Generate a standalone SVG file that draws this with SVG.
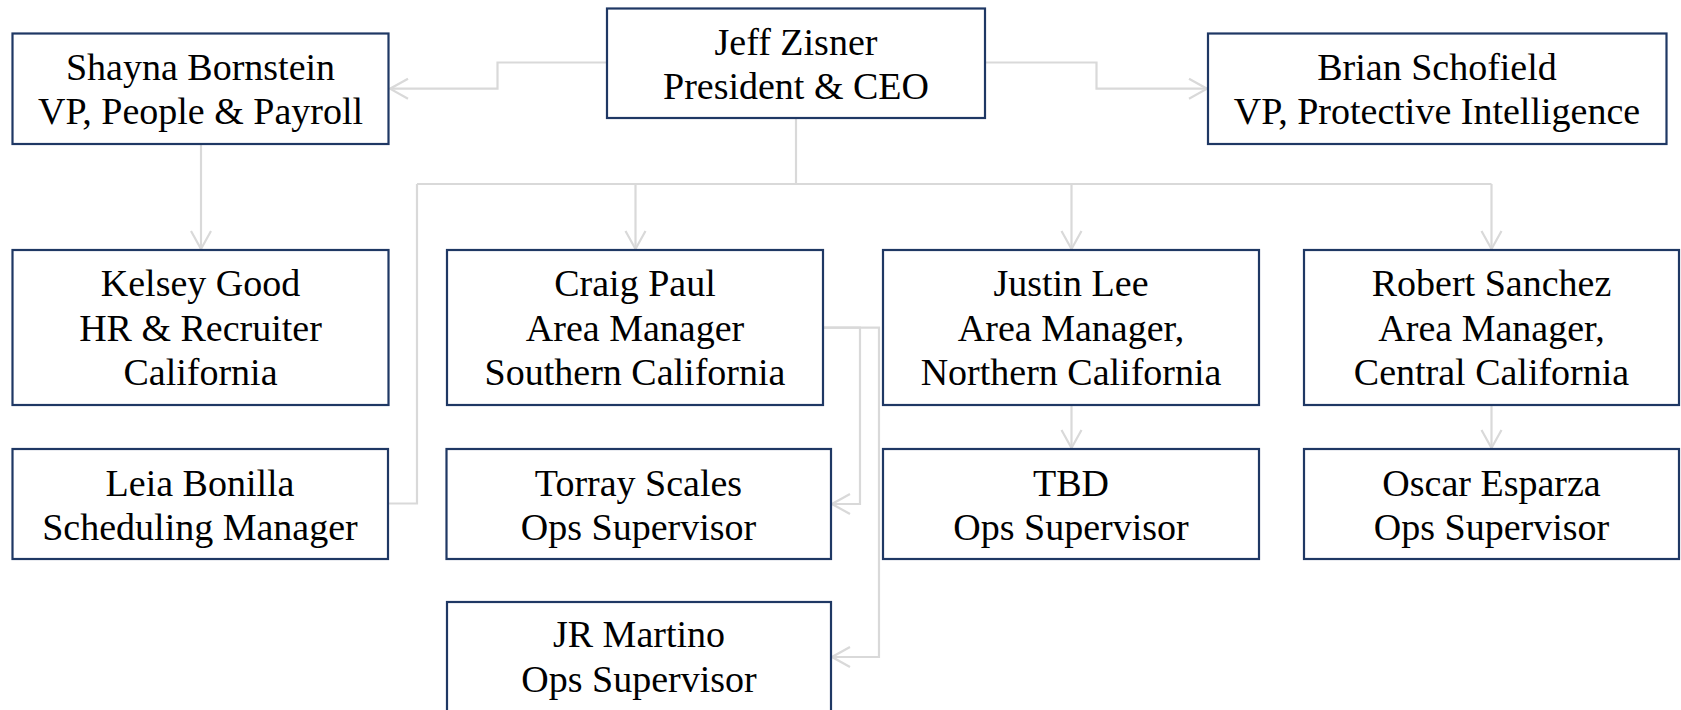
<svg xmlns="http://www.w3.org/2000/svg" width="1681" height="710" viewBox="0 0 1681 710">
<style>
.box{fill:#ffffff;stroke:#1f3864;stroke-width:2.2}
.t{font-family:"Liberation Serif","DejaVu Serif",serif;font-size:38px;fill:#000000;text-anchor:middle}
.c{fill:none;stroke:#d9d9d9;stroke-width:2.2}
</style>
<defs>
<marker id="ah" viewBox="-20 -12 22 24" refX="0" refY="0" markerWidth="22" markerHeight="24" markerUnits="userSpaceOnUse" orient="auto">
<path d="M-18,-10 L0,0 L-18,10" fill="none" stroke="#d9d9d9" stroke-width="2.2"/>
</marker>
</defs>
<rect width="1681" height="710" fill="#ffffff"/>
<g id="connectors">
<path class="c" d="M607,62.5 H497.5 V88.7 H390" marker-end="url(#ah)"/>
<path class="c" d="M985,62.5 H1096.5 V88.7 H1207" marker-end="url(#ah)"/>
<path class="c" d="M201,144 V249" marker-end="url(#ah)"/>
<path class="c" d="M796,118 V184"/>
<path class="c" d="M417,184 H1491.5"/>
<path class="c" d="M388,503.5 H417 V184"/>
<path class="c" d="M635.5,184 V249" marker-end="url(#ah)"/>
<path class="c" d="M1071.5,184 V249" marker-end="url(#ah)"/>
<path class="c" d="M1491.5,184 V249" marker-end="url(#ah)"/>
<path class="c" d="M1071.5,405 V448" marker-end="url(#ah)"/>
<path class="c" d="M1491.5,405 V448" marker-end="url(#ah)"/>
<path class="c" d="M823,327.7 H860 V504 H832" marker-end="url(#ah)"/>
<path class="c" d="M823,327.7 H879 V657 H832" marker-end="url(#ah)"/>
</g>
<g id="jeff"><rect class="box" x="607" y="8.5" width="378" height="109.5"/><text class="t" x="796" y="55">Jeff Zisner</text><text class="t" x="796" y="99">President &amp; CEO</text></g>
<g id="shayna"><rect class="box" x="12.5" y="33.5" width="376" height="110.5"/><text class="t" x="200.5" y="80">Shayna Bornstein</text><text class="t" x="200.5" y="124">VP, People &amp; Payroll</text></g>
<g id="brian"><rect class="box" x="1208" y="33.5" width="458.5" height="110.5"/><text class="t" x="1437" y="80">Brian Schofield</text><text class="t" x="1437" y="124">VP, Protective Intelligence</text></g>
<g id="kelsey"><rect class="box" x="12.5" y="250" width="376" height="155"/><text class="t" x="200.5" y="296">Kelsey Good</text><text class="t" x="200.5" y="340.5">HR &amp; Recruiter</text><text class="t" x="200.5" y="384.5">California</text></g>
<g id="craig"><rect class="box" x="447" y="250" width="376" height="155"/><text class="t" x="635" y="296">Craig Paul</text><text class="t" x="635" y="340.5">Area Manager</text><text class="t" x="635" y="385">Southern California</text></g>
<g id="justin"><rect class="box" x="883" y="250" width="376" height="155"/><text class="t" x="1071" y="296">Justin Lee</text><text class="t" x="1071" y="340.5">Area Manager,</text><text class="t" x="1071" y="385">Northern California</text></g>
<g id="robert"><rect class="box" x="1304" y="250" width="375" height="155"/><text class="t" x="1491.5" y="296">Robert Sanchez</text><text class="t" x="1491.5" y="340.5">Area Manager,</text><text class="t" x="1491.5" y="385">Central California</text></g>
<g id="leia"><rect class="box" x="12.5" y="449" width="375.5" height="110"/><text class="t" x="200" y="495.5">Leia Bonilla</text><text class="t" x="200" y="540">Scheduling Manager</text></g>
<g id="torray"><rect class="box" x="446.5" y="449" width="384.5" height="110"/><text class="t" x="638.5" y="495.5">Torray Scales</text><text class="t" x="638.5" y="540">Ops Supervisor</text></g>
<g id="tbd"><rect class="box" x="883" y="449" width="376" height="110"/><text class="t" x="1071" y="495.5">TBD</text><text class="t" x="1071" y="540">Ops Supervisor</text></g>
<g id="oscar"><rect class="box" x="1304" y="449" width="375" height="110"/><text class="t" x="1491.5" y="495.5">Oscar Esparza</text><text class="t" x="1491.5" y="540">Ops Supervisor</text></g>
<g id="jr"><rect class="box" x="447" y="602" width="384" height="112"/><text class="t" x="639" y="647">JR Martino</text><text class="t" x="639" y="691.5">Ops Supervisor</text></g>
</svg>
